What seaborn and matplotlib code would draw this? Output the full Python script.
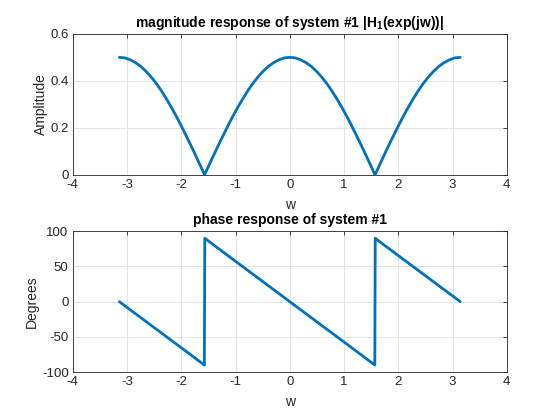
import matplotlib
matplotlib.use("Agg")
import matplotlib.pyplot as plt
import seaborn as sns
import pandas as pd

# ---- data ----
mag_w = [-3.142, -3.043, -2.945, -2.847, -2.749, -2.651, -2.553, -2.454, -2.356,
         -2.258, -2.160, -2.062, -1.963, -1.865, -1.767, -1.669, -1.571,
         -1.473, -1.374, -1.276, -1.178, -1.080, -0.982, -0.884, -0.785,
         -0.687, -0.589, -0.491, -0.393, -0.295, -0.196, -0.098, 0.000,
         0.098, 0.196, 0.295, 0.393, 0.491, 0.589, 0.687, 0.785,
         0.884, 0.982, 1.080, 1.178, 1.276, 1.374, 1.473, 1.571,
         1.669, 1.767, 1.865, 1.963, 2.062, 2.160, 2.258, 2.356,
         2.454, 2.553, 2.651, 2.749, 2.847, 2.945, 3.043, 3.142]
mag_amp = [0.500, 0.498, 0.490, 0.478, 0.462, 0.441, 0.416, 0.387, 0.354,
           0.317, 0.278, 0.236, 0.191, 0.145, 0.098, 0.049, 0.000,
           0.049, 0.098, 0.145, 0.191, 0.236, 0.278, 0.317, 0.354,
           0.387, 0.416, 0.441, 0.462, 0.478, 0.490, 0.498, 0.500,
           0.498, 0.490, 0.478, 0.462, 0.441, 0.416, 0.387, 0.354,
           0.317, 0.278, 0.236, 0.191, 0.145, 0.098, 0.049, 0.000,
           0.049, 0.098, 0.145, 0.191, 0.236, 0.278, 0.317, 0.354,
           0.387, 0.416, 0.441, 0.462, 0.478, 0.490, 0.498, 0.500]

ph_w = [-3.142, -2.945, -2.749, -2.553, -2.356, -2.160, -1.963, -1.767, -1.575,
        -1.571, -1.567,
        -1.374, -1.178, -0.982, -0.785, -0.589, -0.393, -0.196, 0.000,
        0.196, 0.393, 0.589, 0.785, 0.982, 1.178, 1.374, 1.567,
        1.571, 1.575,
        1.767, 1.963, 2.160, 2.356, 2.553, 2.749, 2.945, 3.142]
ph_deg = [0.0, -11.3, -22.5, -33.8, -45.0, -56.3, -67.5, -78.8, -90.0,
          0.0, 90.0,
          78.8, 67.5, 56.3, 45.0, 33.8, 22.5, 11.3, 0.0,
          -11.3, -22.5, -33.8, -45.0, -56.3, -67.5, -78.8, -90.0,
          0.0, 90.0,
          78.8, 67.5, 56.3, 45.0, 33.8, 22.5, 11.3, 0.0]

x_ticks = [-4, -3, -2, -1, 0, 1, 2, 3, 4]
mag_ticks = [0, 0.2, 0.4, 0.6]
ph_ticks = [-100, -50, 0, 50, 100]

title_mag = r"magnitude response of system #1 |H$_\mathbf{1}$(exp(jw))|"
title_ph = "phase response of system #1"

# ---- style ----
sns.set_style("white")
plt.rcParams["font.family"] = ["Liberation Sans", "DejaVu Sans"]
plt.rcParams["mathtext.fontset"] = "custom"
plt.rcParams["mathtext.rm"] = "Liberation Sans"
plt.rcParams["mathtext.bf"] = "Liberation Sans:bold"

LINE = "#0072BD"
AXC = "#262626"
FS = 9.5

fig = plt.figure(figsize=(5.6, 4.2), dpi=100)
ax1 = fig.add_axes([0.13, 0.5838, 0.775, 0.3355])
ax2 = fig.add_axes([0.13, 0.114, 0.775, 0.3355])

df_mag = pd.DataFrame({"w": mag_w, "amp": mag_amp})
df_ph = pd.DataFrame({"w": ph_w, "deg": ph_deg})

sns.lineplot(data=df_mag, x="w", y="amp", ax=ax1, color=LINE, lw=2.0,
             sort=False, estimator=None)
sns.lineplot(data=df_ph, x="w", y="deg", ax=ax2, color=LINE, lw=2.0,
             sort=False, estimator=None)

def style(ax, yt, ylabel, title):
    ax.set_xlim(-4, 4)
    ax.set_xticks(x_ticks)
    ax.set_yticks(yt)
    ax.set_ylim(yt[0], yt[-1])
    ax.set_xticklabels([str(t) for t in x_ticks])
    ax.grid(True, color="#e3e3e3", lw=0.7)
    ax.set_axisbelow(True)
    for s in ax.spines.values():
        s.set_visible(True)
        s.set_color(AXC)
        s.set_linewidth(0.6)
    ax.tick_params(direction="in", length=3, width=0.6, colors=AXC,
                   labelsize=FS, top=True, right=True, pad=3)
    for lbl in ax.get_xticklabels() + ax.get_yticklabels():
        lbl.set_color(AXC)
    ax.set_xlabel("w", fontsize=FS + 0.5, color=AXC, labelpad=5)
    ax.set_ylabel(ylabel, fontsize=FS + 0.5, color=AXC, labelpad=2)
    ax.set_title(title, fontsize=10, fontweight="bold", color="black", pad=5)

style(ax1, mag_ticks, "Amplitude", title_mag)
ax1.set_yticklabels(["0", "0.2", "0.4", "0.6"])
style(ax2, ph_ticks, "Degrees", title_ph)
ax2.set_yticklabels([str(t) for t in ph_ticks])

fig.savefig("out.png", dpi=100)
